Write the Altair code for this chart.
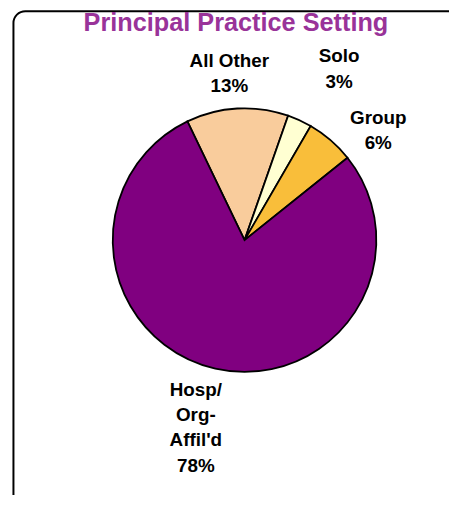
import math
import altair as alt
import pandas as pd

# ---- data ----
CATEGORIES = ["All Other", "Solo", "Group", "Hosp/\nOrg-\nAffil'd"]
VALUES = [12.5, 3.0, 5.9, 78.6]
PCT_LABELS = ["13%", "3%", "6%", "78%"]
COLORS = ["#F9CC9C", "#FFFFD2", "#F9BE3A", "#800080"]
TITLE = "Principal Practice Setting"

# ---- layout ----
W, H = 445, 487
CX, CY = 238.7, 232
R = 133
START = math.radians(-25.7)
FONT = "Arial, Liberation Sans, Helvetica, sans-serif"
LINE_H = 25.5
# per label: radius, dx, dy (of block centre)
LABEL_LAYOUT = [(168, -6, 0), (190, 16, 0), (170, 24, 18), (190, -7, 4)]

df = pd.DataFrame({
    "cat": CATEGORIES,
    "value": VALUES,
    "pct": PCT_LABELS,
    "order": list(range(len(CATEGORIES))),
})
df["label"] = df["cat"] + "\n" + df["pct"]

theta_scale = alt.Scale(domain=[0, sum(VALUES)], range=[START, START + 2 * math.pi])
color_scale = alt.Scale(domain=CATEGORIES, range=COLORS)

base = alt.Chart(df)

pie = base.mark_arc(outerRadius=R, stroke="black", strokeWidth=1.8).encode(
    theta=alt.Theta("value:Q", stack=True, scale=theta_scale),
    color=alt.Color("cat:N", scale=color_scale, legend=None),
    order=alt.Order("order:Q"),
    x=alt.value(CX),
    y=alt.value(CY),
)

layers = []
for i, (r, dx, dy) in enumerate(LABEL_LAYOUT):
    n_lines = df["label"][i].count("\n") + 1
    t = (
        base.transform_window(cum="sum(value)", sort=[alt.SortField("order")], frame=[None, 0])
        .transform_calculate(mid="datum.cum - datum.value / 2")
        .transform_filter(alt.datum.order == i)
        .mark_text(
            radius=r, dx=dx, dy=dy - (n_lines - 1) * LINE_H / 2, fontSize=19,
            fontWeight="bold", font=FONT, lineBreak="\n", lineHeight=LINE_H,
            align="center", baseline="middle", color="black",
        )
        .encode(
            theta=alt.Theta("mid:Q", scale=theta_scale),
            text="label:N",
            x=alt.value(CX),
            y=alt.value(CY),
        )
    )
    layers.append(t)

title = alt.Chart(pd.DataFrame({"t": [TITLE]})).mark_text(
    fontSize=25.5, fontWeight="bold", font=FONT, color="#993399",
    align="center", baseline="alphabetic",
).encode(text="t:N", x=alt.value(230), y=alt.value(21.5))

frame = alt.Chart(pd.DataFrame({"a": [0]})).mark_rect(
    fillOpacity=0, stroke="black", strokeWidth=2, cornerRadius=12,
).encode(x=alt.value(5.5), x2=alt.value(W + 40), y=alt.value(1), y2=alt.value(H + 40))

chart = alt.layer(frame, pie, *layers, title).properties(
    width=W, height=H, autosize=alt.AutoSizeParams(type="none"), padding=0,
).configure_view(stroke=None)

chart.save("out.html", embed_options={"renderer": "svg", "actions": False})
